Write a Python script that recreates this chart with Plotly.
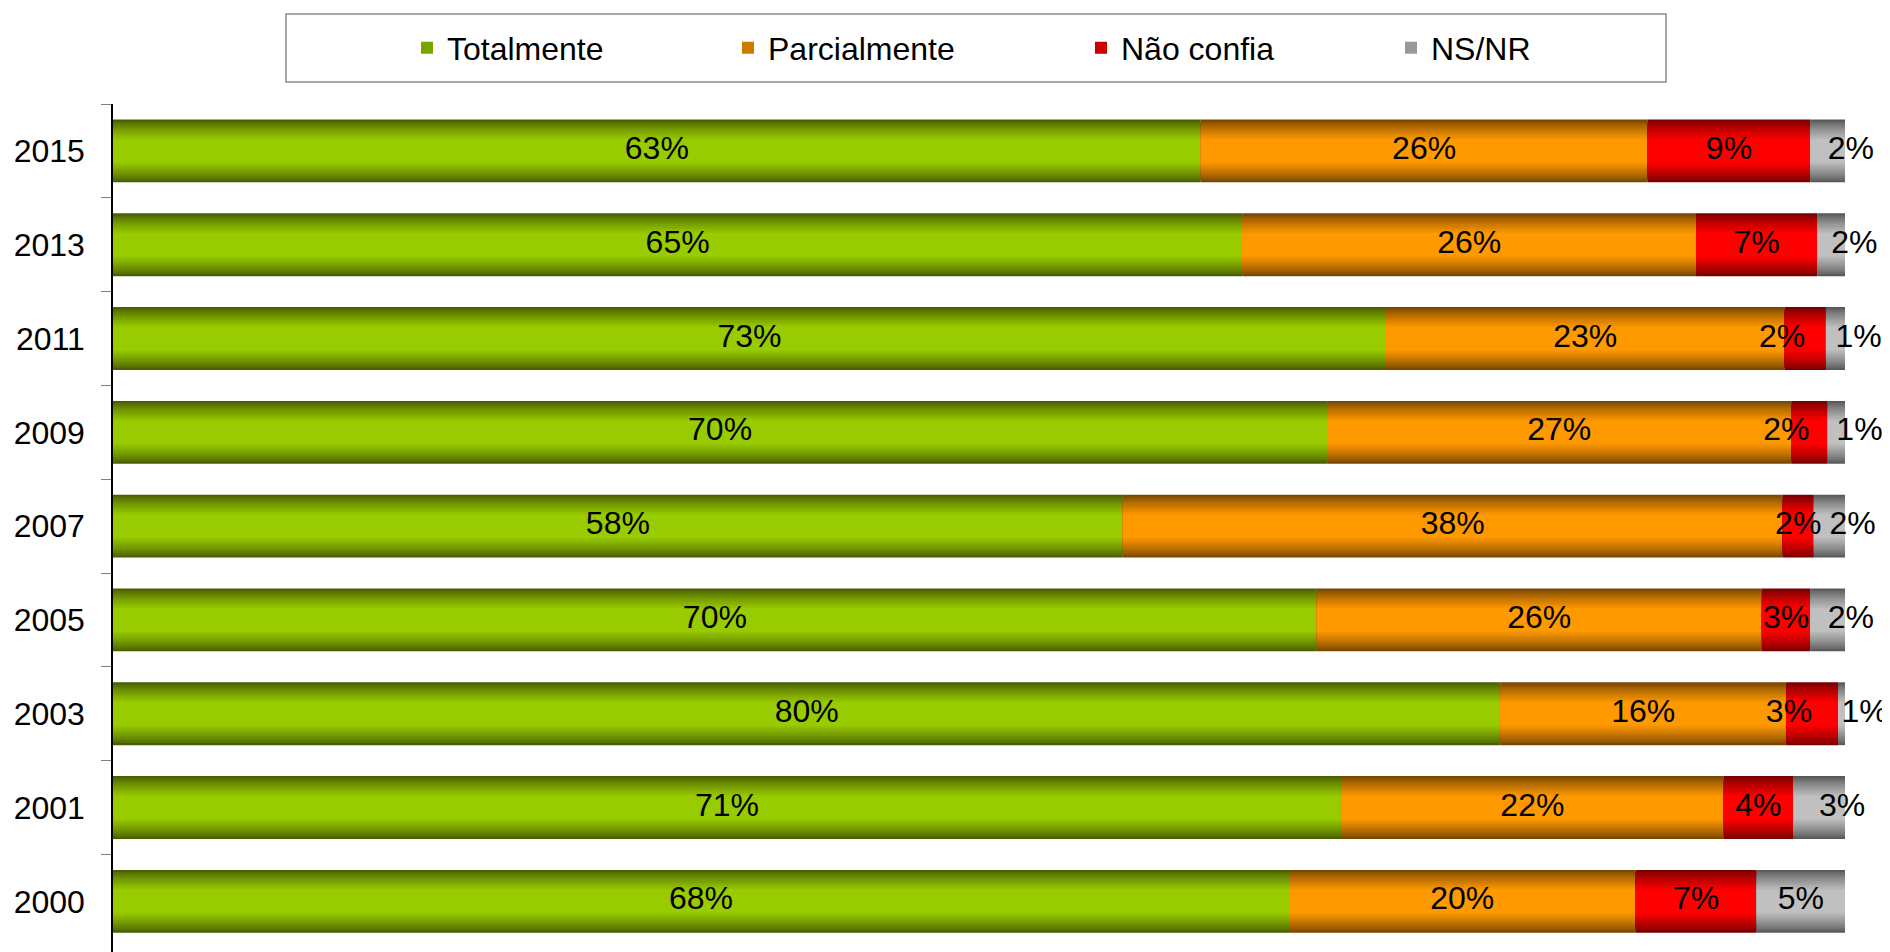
import plotly.graph_objects as go

years = ['2015', '2013', '2011', '2009', '2007', '2005', '2003', '2001', '2000']

# bar lengths (share of 100%)
totalmente = [62.8, 65.2, 73.5, 70.1, 58.3, 69.5, 80.1, 70.9, 67.9]
parcialmente = [25.8, 26.2, 23.0, 26.8, 38.1, 25.7, 16.5, 22.1, 20.0]
nao_confia = [9.4, 7.0, 2.4, 2.1, 1.8, 2.8, 3.0, 4.0, 7.0]
ns_nr = [2.0, 1.6, 1.1, 1.0, 1.8, 2.0, 0.4, 3.0, 5.1]

# printed labels
lab_totalmente = ['63%', '65%', '73%', '70%', '58%', '70%', '80%', '71%', '68%']
lab_parcialmente = ['26%', '26%', '23%', '27%', '38%', '26%', '16%', '22%', '20%']
lab_nao_confia = ['9%', '7%', '2%', '2%', '2%', '3%', '3%', '4%', '7%']
lab_ns_nr = ['2%', '2%', '1%', '1%', '2%', '2%', '1%', '3%', '5%']

mc, ml, mr = 'middle center', 'middle left', 'middle right'
series = [
    ('Totalmente', totalmente, lab_totalmente, (0x4a, 0x60, 0x00), (0x99, 0xcc, 0x00), [mc] * 9),
    ('Parcialmente', parcialmente, lab_parcialmente, (0x7a, 0x48, 0x00), (0xff, 0x99, 0x00), [mc] * 9),
    ('Não confia', nao_confia, lab_nao_confia, (0x7a, 0x00, 0x00), (0xff, 0x00, 0x00),
     [mc, mc, ml, ml, mc, mc, ml, mc, mc]),
    ('NS/NR', ns_nr, lab_ns_nr, (0x5a, 0x5a, 0x5a), (0xc0, 0xc0, 0xc0),
     [mr, mr, mr, mr, mr, mr, mr, mr, mc]),
]

FONT = 'Arial, Liberation Sans, sans-serif'
FS = 32
BAR_W = 0.67
N_LEVELS = 10
OFF = 8  # page body margin

# page pixel geometry of the plot area
plot_l, plot_r, plot_t, plot_b = 113 - OFF, 1845 - OFF, 104 - OFF, 952 - OFF
fig_w, fig_h = 1890 - OFF, 952 - OFF
plot_w = plot_r - plot_l
plot_h = plot_b - plot_t

def px_x(p):
    return (p - OFF - plot_l) / plot_w

def px_y(p):
    return (plot_b - (p - OFF)) / plot_h

fig = go.Figure()
texts = []

running = [0.0] * len(years)
for i, (name, vals, labels, dark, light, tpos) in enumerate(series):
    bases = list(running)
    # fake vertical gradient: layered bars, darker and wider at the back
    for k in range(N_LEVELS):
        t = k / (N_LEVELS - 1)
        f = t ** 0.8
        col = 'rgb(%d,%d,%d)' % tuple(int(d + (l - d) * f) for d, l in zip(dark, light))
        fig.add_trace(go.Bar(
            y=years, x=vals, base=bases, orientation='h',
            width=BAR_W * (1 - 0.62 * t),
            marker=dict(color=col, line=dict(width=0)),
            name=name,
            showlegend=(k == N_LEVELS // 2),
            legend='legend' if i == 0 else 'legend%d' % (i + 1),
            hoverinfo='skip',
        ))
    texts.append(go.Scatter(
        y=years, x=[b + v / 2 for b, v in zip(bases, vals)],
        mode='text', text=labels, textposition=tpos, cliponaxis=False,
        textfont=dict(size=FS, color='black', family=FONT),
        showlegend=False, hoverinfo='skip',
    ))
    running = [r + v for r, v in zip(running, vals)]

for tr in texts:
    fig.add_trace(tr)

# legend text start (page pixels)
legend_x = [447, 768, 1121, 1431]
legends = {}
for i, p in enumerate(legend_x):
    key = 'legend' if i == 0 else 'legend%d' % (i + 1)
    legends[key] = dict(
        x=px_x(p - 40), xanchor='left',
        y=px_y(48), yanchor='middle',
        orientation='h', bgcolor='rgba(0,0,0,0)', borderwidth=0,
        font=dict(size=FS, color='black', family=FONT),
    )

fig.update_layout(
    width=fig_w, height=fig_h,
    margin=dict(l=plot_l, r=fig_w - plot_r, t=plot_t, b=fig_h - plot_b),
    barmode='overlay',
    plot_bgcolor='white', paper_bgcolor='white',
    font=dict(family=FONT, color='black'),
    **legends,
)

fig.add_shape(
    type='rect', xref='paper', yref='paper',
    x0=px_x(286), x1=px_x(1666), y0=px_y(82), y1=px_y(14),
    line=dict(color='#8c8c8c', width=1.5), fillcolor='rgba(0,0,0,0)',
)

fig.update_xaxes(visible=False, range=[0, 100])
fig.update_yaxes(
    type='category', categoryorder='array', categoryarray=years,
    range=[len(years) - 0.46, -0.5],
    showgrid=False, zeroline=False,
    showline=True, linecolor='black', linewidth=1.5,
    ticks='outside', tickson='boundaries', ticklen=10, tickcolor='#808080',
    ticklabelstandoff=20,
    tickfont=dict(size=FS, color='black', family=FONT),
)

fig.write_html('out.html')
